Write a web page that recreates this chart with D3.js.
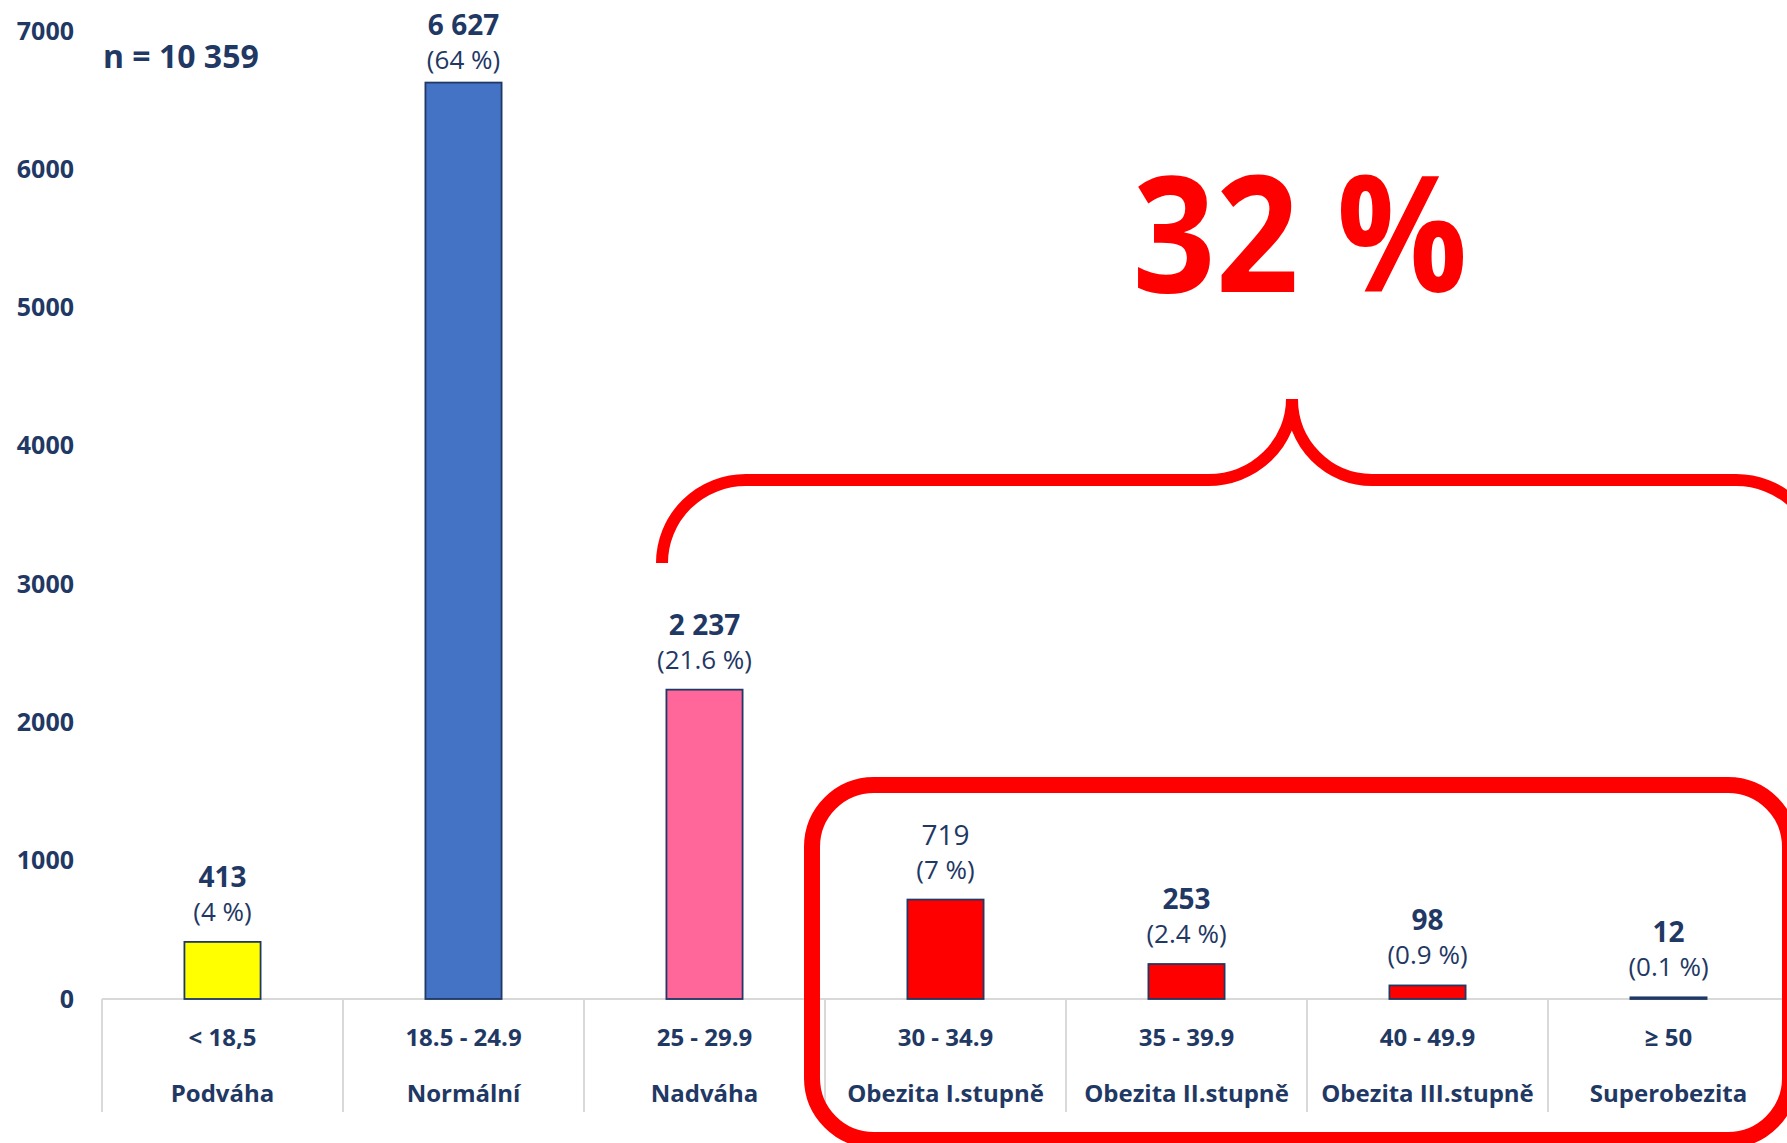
<!DOCTYPE html>
<html>
<head>
<meta charset="utf-8">
<script src="https://cdn.jsdelivr.net/npm/d3@7"></script>
<style>
  html, body { margin: 0; padding: 0; background: #ffffff; }
  svg { display: block; }
  text { font-family: "Open Sans", "Noto Sans", sans-serif; }
</style>
</head>
<body>
<svg id="chart" width="1787" height="1143"></svg>
<script>
// BMI categories and patient counts
const ranges = ["< 18,5", "18.5 - 24.9", "25 - 29.9", "30 - 34.9", "35 - 39.9", "40 - 49.9", "≥ 50"];
const names = ["Podváha", "Normální", "Nadváha", "Obezita I.stupně", "Obezita II.stupně", "Obezita III.stupně", "Superobezita"];
const counts = [413, 6627, 2237, 719, 253, 98, 12];
const shares = ["4 %", "64 %", "21.6 %", "7 %", "2.4 %", "0.9 %", "0.1 %"];
const yTicks = [0, 1000, 2000, 3000, 4000, 5000, 6000, 7000];
const totalLabel = "n = 10 359";
const obeseShare = "32 %";

// styling
const ink = "#1f3864";
const fills = ["#ffff00", "#4472c4", "#ff6699", "#ff0000", "#ff0000", "#ff0000", "#ff0000"];
const regularValueLabels = new Set(["30 - 34.9"]);
const fmt = v => d3.format(",")(v).replace(/,/g, " ");

const svg = d3.select("#chart");

const x = d3.scaleBand()
  .domain(ranges)
  .range([102, 102 + 241 * ranges.length])
  .paddingInner(0.684)
  .paddingOuter(0.342);

const y = d3.scaleLinear().domain([0, 7000]).range([999, 31]);

// x axis baseline
svg.append("line")
  .attr("x1", 102).attr("x2", 1787)
  .attr("y1", y(0)).attr("y2", y(0))
  .attr("stroke", "#d9d9d9").attr("stroke-width", 2);

// category separators below the axis
const step = x.step();
const sepX = d3.range(ranges.length + 1).map(i => 102 + i * step);
svg.append("g").selectAll("line").data(sepX).join("line")
  .attr("x1", d => d).attr("x2", d => d)
  .attr("y1", y(0)).attr("y2", 1112)
  .attr("stroke", "#d9d9d9").attr("stroke-width", 2);

// y axis tick labels (no axis line)
const yAxis = d3.axisLeft(y).tickValues(yTicks).tickSize(0).tickPadding(0).tickFormat(d3.format("d"));
const yg = svg.append("g").attr("transform", "translate(74,0)").call(yAxis);
yg.select(".domain").remove();
yg.selectAll("text")
  .attr("fill", ink)
  .attr("font-size", 25)
  .attr("font-weight", 700)
  .attr("font-family", "'Open Sans', sans-serif");

// bars
svg.append("g").selectAll("rect").data(counts).join("rect")
  .attr("x", (d, i) => x(ranges[i]))
  .attr("y", d => y(d))
  .attr("width", x.bandwidth())
  .attr("height", d => y(0) - y(d))
  .attr("fill", (d, i) => fills[i])
  .attr("stroke", ink)
  .attr("stroke-width", 1.8);

// value and share labels above bars
const labels = svg.append("g").selectAll("g").data(counts).join("g")
  .attr("transform", (d, i) => {
    const base = Math.max(y(d) - 55, 35);
    return `translate(${x(ranges[i]) + x.bandwidth() / 2},${base})`;
  });
labels.append("text")
  .attr("text-anchor", "middle")
  .attr("fill", ink)
  .attr("font-size", 28)
  .attr("font-weight", (d, i) => regularValueLabels.has(ranges[i]) ? 400 : 700)
  .text(d => fmt(d));
labels.append("text")
  .attr("text-anchor", "middle")
  .attr("y", 34)
  .attr("fill", ink)
  .attr("font-size", 26)
  .text((d, i) => `(${shares[i]})`);

// two-line category labels
const cat = svg.append("g").selectAll("g").data(ranges).join("g")
  .attr("transform", d => `translate(${x(d) + x.bandwidth() / 2},0)`);
cat.append("text")
  .attr("text-anchor", "middle").attr("y", 1046)
  .attr("fill", ink).attr("font-size", 24).attr("font-weight", 700)
  .text(d => d);
cat.append("text")
  .attr("text-anchor", "middle").attr("y", 1102)
  .attr("fill", ink).attr("font-size", 24).attr("font-weight", 700)
  .text((d, i) => names[i]);

// sample size
svg.append("text")
  .attr("x", 103).attr("y", 68)
  .attr("fill", ink).attr("font-size", 32).attr("font-weight", 700)
  .text(totalLabel);

// rounded frame around the obesity categories
svg.append("rect")
  .attr("x", 812).attr("y", 785)
  .attr("width", 978).attr("height", 355)
  .attr("rx", 62).attr("ry", 62)
  .attr("fill", "none")
  .attr("stroke", "#ff0000").attr("stroke-width", 16);

// curly brace spanning overweight and obesity
svg.append("path")
  .attr("d", "M662,563 A84,83 0 0 1 746,480 L1208,480 A84,81 0 0 0 1292,399 A80,81 0 0 0 1372,480 L1736,480 A84,83 0 0 1 1820,563")
  .attr("fill", "none")
  .attr("stroke", "#ff0000")
  .attr("stroke-width", 12);

// headline share
svg.append("text")
  .attr("x", 1300).attr("y", 292)
  .attr("text-anchor", "middle")
  .attr("fill", "#ff0000")
  .attr("font-size", 162).attr("font-weight", 700)
  .attr("textLength", 335).attr("lengthAdjust", "spacingAndGlyphs")
  .text(obeseShare);
</script>
</body>
</html>
